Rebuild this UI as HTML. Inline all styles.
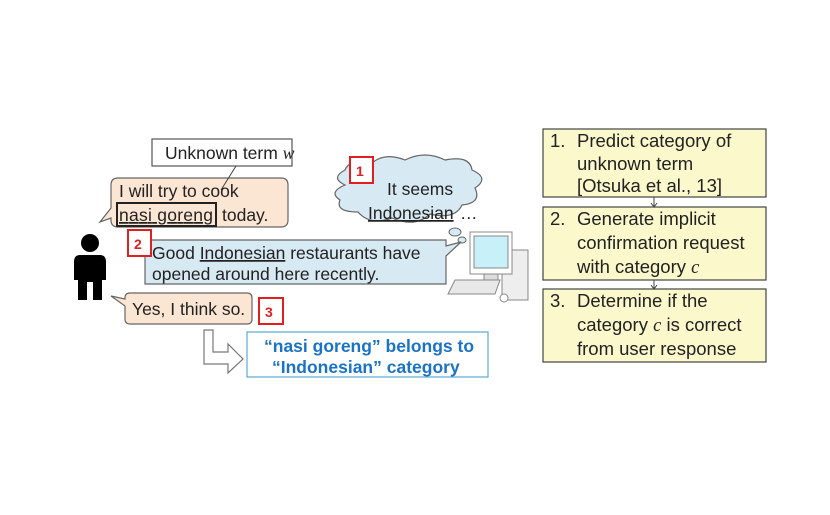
<!DOCTYPE html>
<html><head><style>
body{margin:0;background:#fff;}
svg text{font-family:"Liberation Sans",sans-serif;font-size:17.5px;fill:#222;}
svg text.r{font-size:18.5px;}
</style></head><body>
<svg width="830" height="510" xmlns="http://www.w3.org/2000/svg">
<!-- unknown term -->
<rect x="152" y="139" width="140" height="27" fill="#fff" stroke="#555" stroke-width="1.2"/>
<text x="165" y="159">Unknown term <tspan font-style="italic" font-family="Liberation Serif">w</tspan></text>
<!-- bubble 1 -->
<path d="M118,178 H281 Q288,178 288,185 V220 Q288,227 281,227 H118 Q111,227 111,220 V218 L100,222 L111,208 V185 Q111,178 118,178 Z" fill="#fbe5d3" stroke="#666" stroke-width="1.2"/>
<line x1="236" y1="166" x2="221" y2="190" stroke="#444" stroke-width="1"/>
<text x="119" y="197">I will try to cook</text>
<rect x="117" y="203" width="99" height="23" fill="none" stroke="#222" stroke-width="2"/>
<text x="119" y="221" text-decoration="underline" textLength="94">nasi goreng</text>
<text x="222" y="221">today.</text>
<!-- cloud -->
<path d="M345,185 Q330,178 345,170 Q350,158 372,163 Q385,152 405,160 Q425,150 445,160 Q470,155 472,170 Q490,178 475,188 Q482,203 462,205 Q455,220 430,214 Q415,228 392,218 Q370,226 358,212 Q335,212 340,200 Q328,192 345,185 Z" fill="#d7e9f2" stroke="#666" stroke-width="1.2"/>
<ellipse cx="455" cy="232" rx="6" ry="4" fill="#d7e9f2" stroke="#666"/>
<ellipse cx="462" cy="240" rx="4" ry="3" fill="#d7e9f2" stroke="#666"/>
<text x="387" y="195">It seems</text>
<text x="368" y="219" text-decoration="underline">Indonesian</text>
<text x="460" y="219">…</text>
<rect x="350" y="157" width="23" height="26" fill="#fff" stroke="#e02020" stroke-width="2"/>
<text x="356" y="176" style="fill:#e02020;font-size:14px;font-weight:bold">1</text>
<!-- blue bubble -->
<path d="M145,240 H446 V246 L461,242 L446,256 V284 H145 Z" fill="#d7e9f2" stroke="#666" stroke-width="1.2"/>
<text x="152" y="259">Good <tspan text-decoration="underline">Indonesian</tspan> restaurants have</text>
<text x="152" y="280">opened around here recently.</text>
<rect x="128" y="230" width="23" height="26" fill="#fff" stroke="#e02020" stroke-width="2"/>
<text x="134" y="249" style="fill:#e02020;font-size:14px;font-weight:bold">2</text>
<!-- computer -->
<rect x="502" y="250" width="26" height="50" fill="#eee" stroke="#888"/>
<rect x="470" y="232" width="42" height="42" fill="#fff" stroke="#888"/>
<rect x="474" y="236" width="34" height="32" fill="#c8f0f8" stroke="#888"/>
<rect x="484" y="274" width="14" height="6" fill="#ddd" stroke="#888"/>
<path d="M455,280 H500 L495,294 H448 Z" fill="#e8e8e8" stroke="#888"/>
<circle cx="504" cy="298" r="4" fill="#fff" stroke="#888"/>
<!-- person -->
<circle cx="90" cy="243" r="9" fill="#000"/>
<path d="M80,255 H100 Q106,255 106,262 V280 H102 V300 H93 V282 H87 V300 H78 V280 H74 V262 Q74,255 80,255 Z" fill="#000"/>
<!-- yes bubble -->
<path d="M130,293 H247 Q252,293 252,298 V319 Q252,324 247,324 H130 Q125,324 125,319 V306 L111,296 L125,299 V298 Q125,293 130,293 Z" fill="#fbe5d3" stroke="#666" stroke-width="1.2"/>
<text x="132" y="315">Yes, I think so.</text>
<rect x="259" y="298" width="24" height="26" fill="#fff" stroke="#e02020" stroke-width="2"/>
<text x="265" y="317" style="fill:#e02020;font-size:14px;font-weight:bold">3</text>
<!-- arrow -->
<path d="M204,330 H213 V352 H228 V344 L243,359 L228,373 V364 H204 Z" fill="#fff" stroke="#777" stroke-width="1.2"/>
<!-- result -->
<rect x="247" y="332" width="241" height="45" fill="#fff" stroke="#5aa9d6" stroke-width="1.2"/>
<text x="264" y="352" style="fill:#1a73c7;font-weight:bold">“nasi goreng” belongs to</text>
<text x="272" y="373" style="fill:#1a73c7;font-weight:bold">“Indonesian” category</text>
<!-- right boxes -->
<g stroke="#444" stroke-width="1.2" fill="#fbf8cc">
<rect x="543" y="129" width="223" height="68"/>
<rect x="543" y="207" width="223" height="73"/>
<rect x="543" y="289" width="223" height="73"/>
</g>
<g stroke="#444" stroke-width="1">
<line x1="654" y1="197" x2="654" y2="206"/><path d="M651,203 L654,207 L657,203" fill="none"/>
<line x1="654" y1="280" x2="654" y2="288"/><path d="M651,285 L654,289 L657,285" fill="none"/>
</g>
<text class="r" x="550" y="147">1.</text><text class="r" x="577" y="147">Predict category of</text>
<text class="r" x="577" y="170">unknown term</text>
<text class="r" x="577" y="192">[Otsuka et al., 13]</text>
<text class="r" x="550" y="225">2.</text><text class="r" x="577" y="225">Generate implicit</text>
<text class="r" x="577" y="249">confirmation request</text>
<text class="r" x="577" y="273">with category <tspan font-style="italic" font-family="Liberation Serif">c</tspan></text>
<text class="r" x="550" y="307">3.</text>
<text class="r" x="577" y="307">Determine if the</text>
<text class="r" x="577" y="331">category <tspan font-style="italic" font-family="Liberation Serif">c</tspan> is correct</text>
<text class="r" x="577" y="355">from user response</text>
</svg>
</body></html>
